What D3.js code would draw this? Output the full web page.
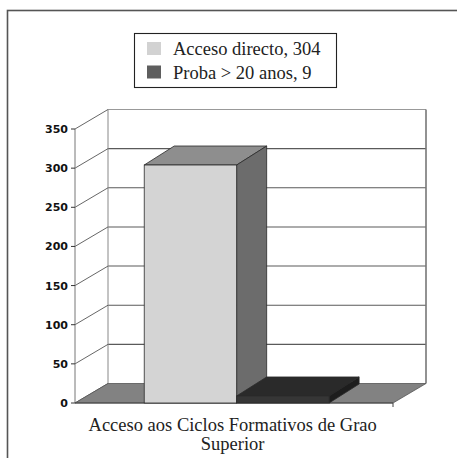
<!DOCTYPE html>
<html><head><meta charset="utf-8">
<script src="https://cdn.jsdelivr.net/npm/d3@7"></script>
<style>html,body{margin:0;padding:0;background:#fff;}svg{display:block;}</style>
</head><body>
<script>
const categories = ["Acceso aos Ciclos Formativos de Grao Superior"];
const categoryLines = ["Acceso aos Ciclos Formativos de Grao", "Superior"];
const seriesNames = ["Acceso directo", "Proba > 20 anos"];
const seriesValues = [304, 9];
const yTicks = [0, 50, 100, 150, 200, 250, 300, 350];

(function () {
const W = 457, H = 458;
const svg = d3.select("body").append("svg").attr("width", W).attr("height", H);

// outer frame (right/bottom cut off)
svg.append("rect").attr("x", 7.5).attr("y", 10.5).attr("width", 470).attr("height", 470)
  .attr("fill", "none").attr("stroke", "#555").attr("stroke-width", 1.6);

// layout
const pLeft = 75, pRight = 393, pBottom = 403, pTop = 129;
const DX = 33, DY = -19.5;       // wall depth
const BDX = 30, BDY = -19;       // bar depth
const y = d3.scaleLinear().domain([0, 350]).range([pBottom, pTop]);
const x0 = d3.scaleBand().domain(categories).range([pLeft, pRight]).paddingInner(0).paddingOuter(0.36).align(0.52);
const x1 = d3.scaleBand().domain(seriesNames).range([0, x0.bandwidth()]);

const faceColors = [
  {front: "#d4d4d4", top: "#8e8e8e", side: "#6c6c6c"},
  {front: "#363636", top: "#2a2a2a", side: "#1d1d1d"}
];
const legendColors = ["#d2d2d2", "#5e5e5e"];

const g = svg.append("g");
// back wall
g.append("rect").attr("x", pLeft + DX).attr("y", y(350) + DY).attr("width", pRight - pLeft)
  .attr("height", y(0) - y(350)).attr("fill", "#fff");
g.selectAll(".grid").data(yTicks.slice(1, -1)).join("line")
  .attr("x1", pLeft + DX).attr("x2", pRight + DX)
  .attr("y1", d => y(d) + DY).attr("y2", d => y(d) + DY)
  .attr("stroke", "#5a5a5a").attr("stroke-width", 1.1);
g.append("line").attr("x1", pLeft + DX).attr("x2", pRight + DX).attr("y1", y(350) + DY).attr("y2", y(350) + DY)
  .attr("stroke", "#999").attr("stroke-width", 1);
g.append("line").attr("x1", pLeft + DX).attr("x2", pLeft + DX).attr("y1", y(350) + DY).attr("y2", y(0) + DY)
  .attr("stroke", "#888").attr("stroke-width", 1);
g.append("line").attr("x1", pRight + DX).attr("x2", pRight + DX).attr("y1", y(350) + DY).attr("y2", y(0) + DY)
  .attr("stroke", "#777").attr("stroke-width", 1.6);
// left wall diagonals
g.selectAll(".diag").data(yTicks).join("line")
  .attr("x1", pLeft).attr("y1", d => y(d)).attr("x2", pLeft + DX).attr("y2", d => y(d) + DY)
  .attr("stroke", "#555").attr("stroke-width", 0.9);
// front axis
g.append("line").attr("x1", pLeft).attr("x2", pLeft).attr("y1", y(350)).attr("y2", y(0))
  .attr("stroke", "#777").attr("stroke-width", 1);
g.selectAll(".tick").data(yTicks).join("line")
  .attr("x1", pLeft - 4).attr("x2", pLeft).attr("y1", d => y(d)).attr("y2", d => y(d))
  .attr("stroke", "#333").attr("stroke-width", 1);
g.selectAll(".tl").data(yTicks).join("text")
  .attr("x", pLeft - 7).attr("y", d => y(d)).attr("dy", "0.36em")
  .attr("text-anchor", "end").attr("font-family", "DejaVu Sans").attr("font-weight", "bold")
  .attr("font-size", 11).attr("fill", "#111").text(d => d);
// floor
const floorPts = [[pLeft, y(0)], [pRight, y(0)], [pRight + DX, y(0) + DY], [pLeft + DX, y(0) + DY]];
g.append("polygon").attr("points", floorPts.map(p => p.join(",")).join(" "))
  .attr("fill", "#828282").attr("stroke", "#555").attr("stroke-width", 0.8);
g.append("line").attr("x1", pLeft).attr("x2", pRight).attr("y1", y(0)).attr("y2", y(0))
  .attr("stroke", "#444").attr("stroke-width", 1.2);
g.append("line").attr("x1", pRight).attr("x2", pRight).attr("y1", y(0)).attr("y2", y(0) + 4)
  .attr("stroke", "#444").attr("stroke-width", 1);

// bars
const cat = categories[0];
seriesNames.forEach((s, i) => {
  const xa = x0(cat) + x1(s), xb = xa + x1.bandwidth();
  const yt = y(seriesValues[i]), yb = y(0);
  const c = faceColors[i];
  const stroke = "#2a2a2a";
  g.append("polygon").attr("points", [[xa, yt], [xb, yt], [xb + BDX, yt + BDY], [xa + BDX, yt + BDY]].map(p => p.join(",")).join(" "))
    .attr("fill", c.top).attr("stroke", stroke).attr("stroke-width", 0.8);
  g.append("polygon").attr("points", [[xb, yt], [xb + BDX, yt + BDY], [xb + BDX, yb + BDY], [xb, yb]].map(p => p.join(",")).join(" "))
    .attr("fill", c.side).attr("stroke", stroke).attr("stroke-width", 0.8);
  g.append("rect").attr("x", xa).attr("y", yt).attr("width", xb - xa).attr("height", yb - yt)
    .attr("fill", c.front).attr("stroke", stroke).attr("stroke-width", 0.8);
});

// category label
g.selectAll(".cl").data(categoryLines).join("text")
  .attr("x", x0(cat) + x0.bandwidth() / 2 - 4).attr("y", (d, i) => 431 + i * 19)
  .attr("text-anchor", "middle").attr("font-family", "Liberation Serif").attr("font-size", 18.5)
  .attr("fill", "#222").text(d => d);

// legend
const lg = svg.append("g");
lg.append("rect").attr("x", 134.5).attr("y", 33.5).attr("width", 202).attr("height", 54)
  .attr("fill", "#fff").attr("stroke", "#222").attr("stroke-width", 1.1);
seriesNames.forEach((s, i) => {
  lg.append("rect").attr("x", 147).attr("y", 42 + i * 23.5).attr("width", 14).attr("height", 13)
    .attr("fill", legendColors[i]);
  lg.append("text").attr("x", 173).attr("y", 55 + i * 23.5)
    .attr("font-family", "Liberation Serif").attr("font-size", 18.5).attr("fill", "#222")
    .text(s + ", " + seriesValues[i]);
});
})();
</script>
</body></html>
